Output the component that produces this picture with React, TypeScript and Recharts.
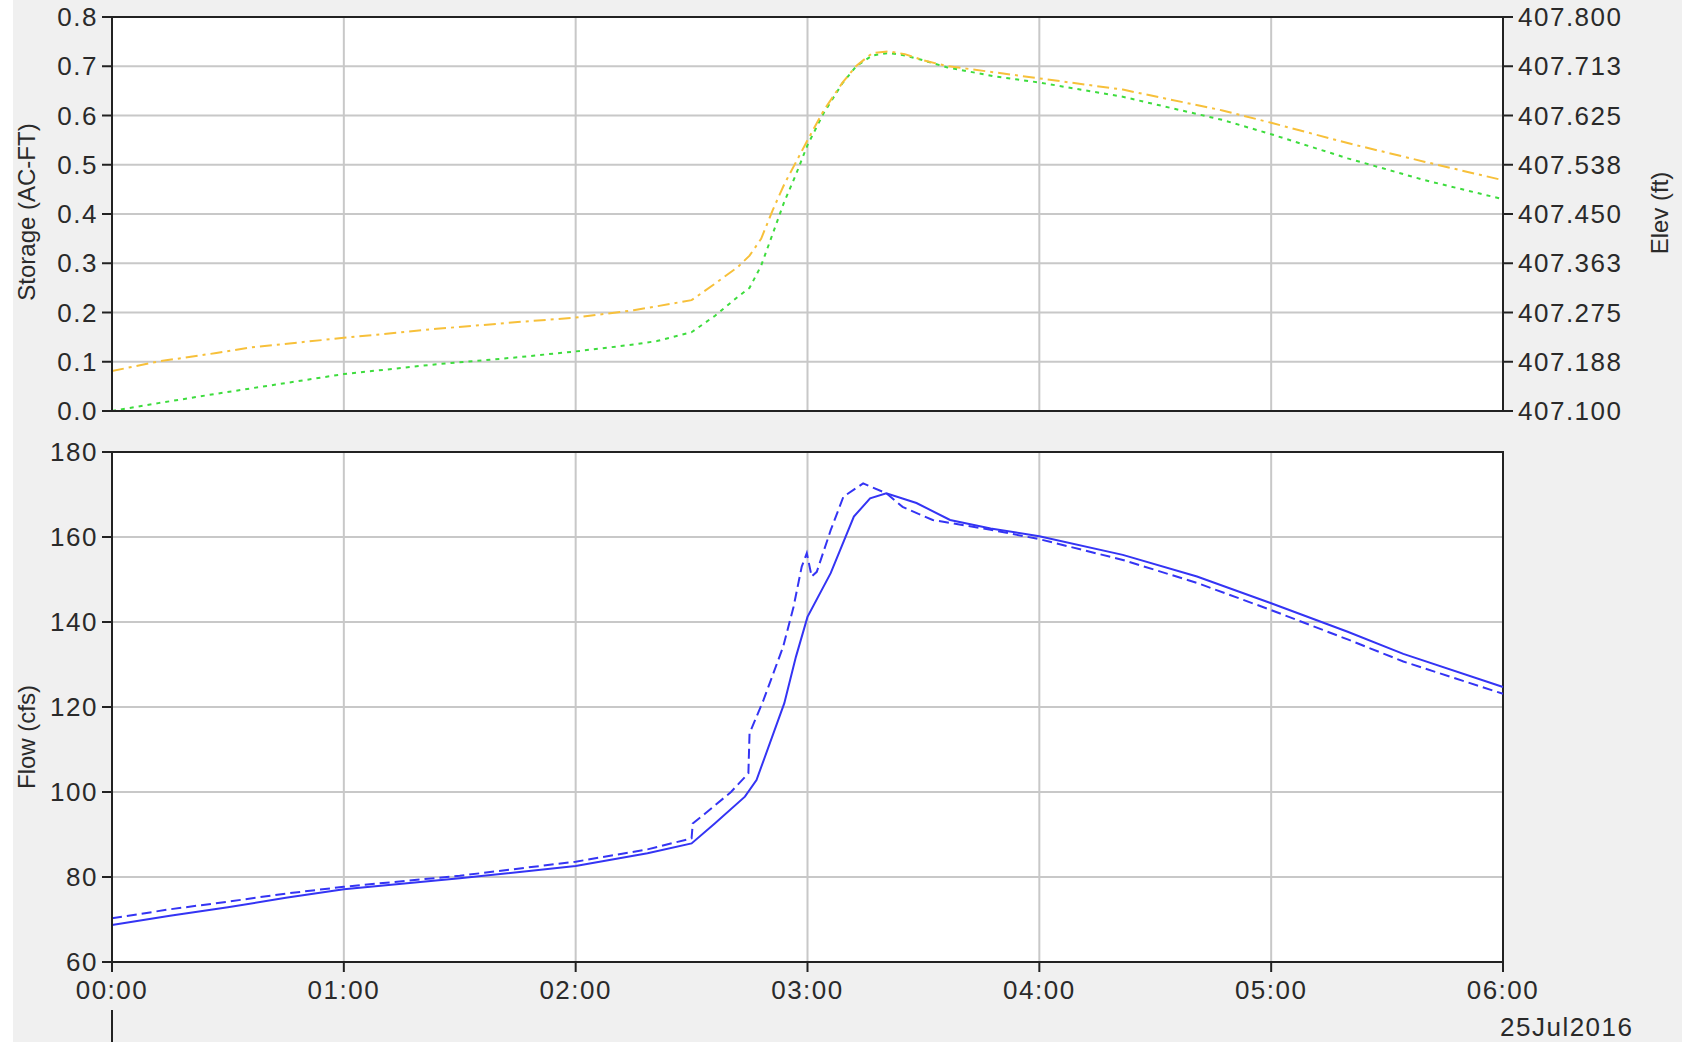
import React from "react";
import { CartesianGrid, Line, LineChart, ReferenceArea, XAxis, YAxis } from "recharts";

// hours since 00:00, 25Jul2016
const hourTicks = [0, 1, 2, 3, 4, 5, 6];
const hourLabels = ["00:00", "01:00", "02:00", "03:00", "04:00", "05:00", "06:00"];

const storageTicks = [0, 0.1, 0.2, 0.3, 0.4, 0.5, 0.6, 0.7, 0.8];
const elevTicks = [407.1, 407.1875, 407.275, 407.3625, 407.45, 407.5375, 407.625, 407.7125, 407.8];
const elevTickLabels = ["407.100", "407.188", "407.275", "407.363", "407.450", "407.538", "407.625", "407.713", "407.800"];
const flowTicks = [60, 80, 100, 120, 140, 160, 180];

const topTime = [
  0, 0.2, 0.45, 0.6, 1.0, 1.4, 1.75, 2.0, 2.25, 2.35, 2.5, 2.6, 2.7, 2.75, 2.8, 2.85, 2.9, 2.95, 3.0,
  3.07, 3.15, 3.21, 3.28, 3.35, 3.42, 3.5, 3.6, 3.8, 4.0, 4.36, 4.79, 5.0, 5.33, 5.66, 6.0,
];
const storageValues = [
  0.0, 0.016, 0.035, 0.046, 0.075, 0.095, 0.109, 0.121, 0.135, 0.142, 0.16, 0.193, 0.232, 0.25, 0.295,
  0.36, 0.425, 0.48, 0.54, 0.605, 0.665, 0.7, 0.722, 0.727, 0.722, 0.712, 0.698, 0.68, 0.667, 0.638,
  0.591, 0.562, 0.513, 0.469, 0.43,
];
const elevValues = [
  407.171, 407.188, 407.203, 407.213, 407.23, 407.246, 407.258, 407.266, 407.279, 407.286, 407.297,
  407.326, 407.356, 407.376, 407.406, 407.457, 407.503, 407.542, 407.581, 407.634, 407.683, 407.713,
  407.736, 407.739, 407.734, 407.723, 407.713, 407.702, 407.691, 407.671, 407.634, 407.612, 407.576,
  407.543, 407.51,
];

const outflowTime = [
  0, 0.25, 0.5, 0.75, 1.0, 1.5, 2.0, 2.31, 2.5, 2.6, 2.73, 2.78, 2.9, 2.95, 3.0, 3.1, 3.2, 3.27, 3.34,
  3.47, 3.615, 3.79, 4.0, 4.36, 4.68, 5.0, 5.33, 5.57, 6.0,
];
const outflowValues = [
  68.7, 70.9, 72.9, 75.1, 77.1, 79.7, 82.6, 85.6, 87.9, 92.6, 98.9, 102.8, 120.9, 131.8, 141.2, 151.5,
  164.8, 169.1, 170.3, 168, 164, 162, 160.2, 155.8, 150.7, 144.4, 137.7, 132.5, 124.7,
];
const inflowTime = [
  0, 0.25, 0.5, 0.75, 1.0, 1.5, 2.0, 2.31, 2.5, 2.505, 2.56, 2.67, 2.745, 2.75, 2.81, 2.895, 2.94, 2.975,
  2.997, 3.018, 3.04, 3.1, 3.155, 3.24, 3.34, 3.41, 3.54, 3.79, 4.0, 4.36, 4.68, 5.0, 5.33, 5.57, 6.0,
];
const inflowValues = [
  70.3, 72.4, 74.2, 76.1, 77.7, 80.3, 83.6, 86.5, 89.1, 92.6, 95, 100, 104.4, 113.8, 121.6, 134.2, 143.6,
  153, 156.2, 150.7, 151.8, 161.6, 169.5, 172.6, 170.3, 167.1, 164, 161.7, 159.5, 154.6, 149.2, 142.8,
  135.9, 130.7, 123.1,
];

const topData = topTime.map((t, i) => ({ t, storage: storageValues[i], elev: elevValues[i] }));
const outflowData = outflowTime.map((t, i) => ({ t, flow: outflowValues[i] }));
const inflowData = inflowTime.map((t, i) => ({ t, flow: inflowValues[i] }));

const font = "'Liberation Sans', Arial, sans-serif";
const tickStyle = { fill: "#2a2a2a", fontSize: 26, fontFamily: font, letterSpacing: 1.5 };
const axisStroke = { stroke: "#222", strokeWidth: 2 };
const gridColor = "#c8c8c8";

const titleStyle: React.CSSProperties = {
  position: "absolute",
  transform: "translate(-50%, -50%) rotate(-90deg)",
  whiteSpace: "nowrap",
  fontFamily: font,
  fontSize: 24,
  color: "#2a2a2a",
};

const elevLabel = (v: number) => {
  const i = elevTicks.indexOf(v);
  return i >= 0 ? elevTickLabels[i] : v.toFixed(3);
};
const hourLabel = (v: number) => hourLabels[hourTicks.indexOf(v)] ?? "";

export default function App() {
  return (
    <div style={{ position: "absolute", left: 0, top: 0, width: 1682, height: 1042, background: "#f0f0f0", overflow: "hidden" }}>
      <div style={{ position: "absolute", left: 0, top: 0, width: 13, height: 1042, background: "#fff" }} />

      <div style={{ position: "absolute", left: 0, top: 0 }}>
        <LineChart width={1682} height={440} data={topData} margin={{ top: 17, right: 0, left: 0, bottom: 15 }}>
          <CartesianGrid stroke={gridColor} strokeWidth={2} fill="#fff" yAxisId="s" />
          <XAxis
            dataKey="t"
            type="number"
            domain={[0, 6]}
            ticks={hourTicks}
            tickFormatter={() => ""}
            tickLine={false}
            axisLine={axisStroke}
            height={14}
            interval={0}
          />
          <YAxis
            yAxisId="s"
            domain={[0, 0.8]}
            ticks={storageTicks}
            tickFormatter={(v: number) => v.toFixed(1)}
            tick={tickStyle}
            tickSize={10}
            tickMargin={4}
            tickLine={axisStroke}
            axisLine={axisStroke}
            width={112}
            interval={0}
          />
          <YAxis
            yAxisId="e"
            orientation="right"
            domain={[407.1, 407.8]}
            ticks={elevTicks}
            tickFormatter={elevLabel}
            tick={tickStyle}
            tickSize={10}
            tickMargin={5}
            tickLine={axisStroke}
            axisLine={axisStroke}
            width={179}
            interval={0}
          />
          <ReferenceArea yAxisId="s" x1={0} x2={6} y1={0} y2={0.8} fill="none" stroke="#222" strokeWidth={2} />
          <Line yAxisId="s" dataKey="storage" type="linear" stroke="#3ddc3d" strokeWidth={2} strokeDasharray="4 5" dot={false} isAnimationActive={false} />
          <Line yAxisId="e" dataKey="elev" type="linear" stroke="#f7c03a" strokeWidth={2} strokeDasharray="12 5 3 5" dot={false} isAnimationActive={false} />
        </LineChart>
      </div>

      <div style={{ position: "absolute", left: 0, top: 430 }}>
        <LineChart width={1682} height={612} margin={{ top: 22, right: 179, left: 0, bottom: 30 }}>
          <CartesianGrid stroke={gridColor} strokeWidth={2} fill="#fff" />
          <XAxis
            dataKey="t"
            type="number"
            domain={[0, 6]}
            ticks={hourTicks}
            tickFormatter={hourLabel}
            tick={tickStyle}
            tickSize={10}
            tickMargin={9}
            tickLine={axisStroke}
            axisLine={axisStroke}
            height={50}
            interval={0}
          />
          <YAxis
            domain={[60, 180]}
            ticks={flowTicks}
            tick={tickStyle}
            tickSize={10}
            tickMargin={4}
            tickLine={axisStroke}
            axisLine={axisStroke}
            width={112}
            interval={0}
          />
          <ReferenceArea x1={0} x2={6} y1={60} y2={180} fill="none" stroke="#222" strokeWidth={2} />
          <Line data={outflowData} dataKey="flow" type="linear" stroke="#3434f4" strokeWidth={2} dot={false} isAnimationActive={false} />
          <Line data={inflowData} dataKey="flow" type="linear" stroke="#3434f4" strokeWidth={2} strokeDasharray="10 5" dot={false} isAnimationActive={false} />
        </LineChart>
      </div>

      <div style={{ ...titleStyle, left: 27, top: 212 }}>Storage (AC-FT)</div>
      <div style={{ ...titleStyle, left: 1660, top: 213 }}>Elev (ft)</div>
      <div style={{ ...titleStyle, left: 27, top: 737 }}>Flow (cfs)</div>

      <div style={{ position: "absolute", left: 1500, top: 1012, fontFamily: font, fontSize: 26, letterSpacing: 1.5, color: "#2a2a2a", whiteSpace: "nowrap" }}>
        25Jul2016
      </div>
      <div style={{ position: "absolute", left: 111, top: 1010, width: 2, height: 32, background: "#222" }} />
    </div>
  );
}
